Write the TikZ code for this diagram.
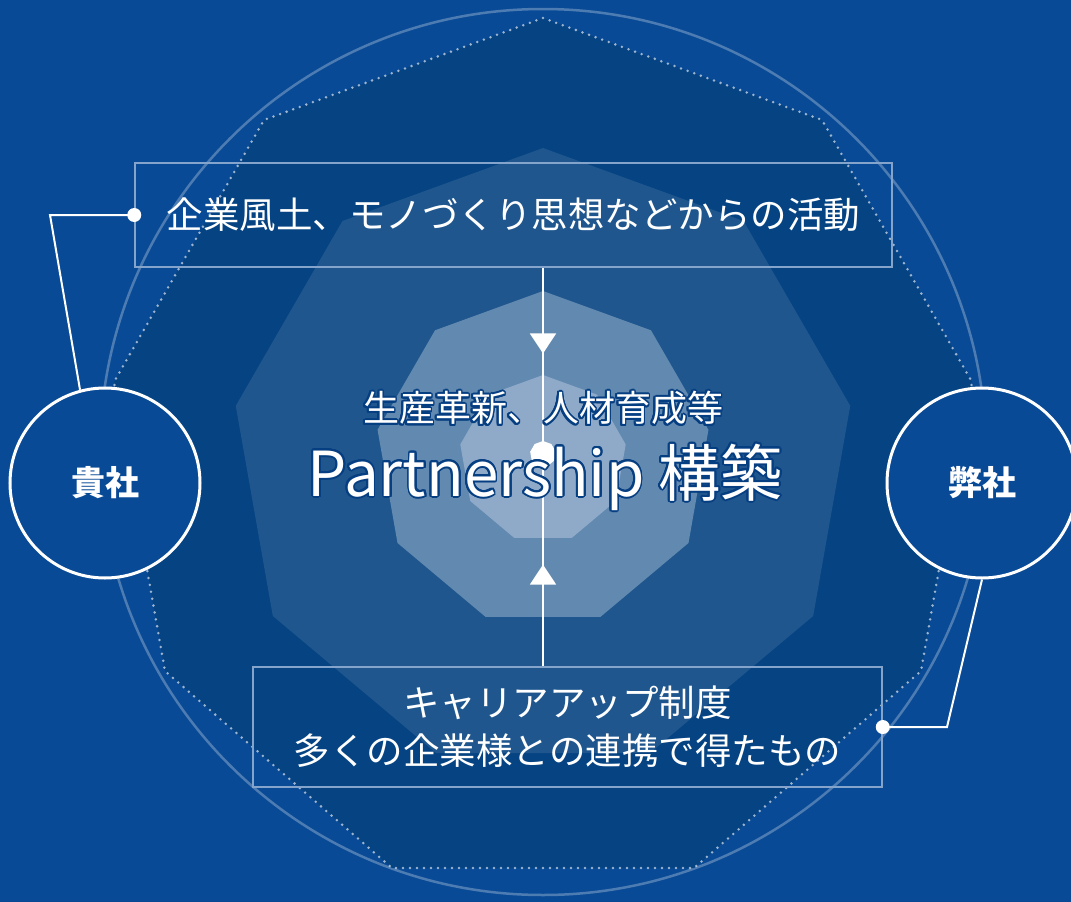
\documentclass[tikz,border=0pt]{standalone}
\usepackage{fontspec}
\setmainfont{Noto Sans CJK JP}
\usepackage[copies]{contour}
\usetikzlibrary{arrows.meta, shapes.geometric, decorations.markings, positioning}
\definecolor{bgblue}{RGB}{9,74,150}
\definecolor{deepblue}{RGB}{5,67,130}
\definecolor{ringblue}{RGB}{31,86,142}
\definecolor{midblue}{RGB}{98,137,176}
\definecolor{paleblue}{RGB}{143,170,200}
\definecolor{inkblue}{RGB}{6,62,130}
\contourlength{1.8pt}
\contournumber{24}

\begin{document}
\begin{tikzpicture}[x=1pt, y=-1pt,
  ring/.style={regular polygon, regular polygon sides=9, inner sep=0pt, draw=none},
  infobox/.style={draw=white!50!bgblue, line width=1.5pt, inner sep=0pt, text=white, font=\fontsize{36.5}{48}\selectfont, align=center},
  company/.style={circle, draw=white, line width=3pt, fill=bgblue, minimum size=190pt, inner sep=0pt, text=white, font=\fontsize{34}{38}\selectfont\bfseries},
  link/.style={white, line width=2pt},
  flow/.style={white, line width=2pt, postaction={decorate}, decoration={markings,
    mark=at position 0.215 with {\arrow{Triangle[width=26pt,length=20pt]}},
    mark=at position 0.745 with {\arrowreversed{Triangle[width=26pt,length=20pt]}}}},
  headline/.style={text=white, inner sep=0pt}]
  \fill[bgblue] (0,0) rectangle (1071,902);
  \useasboundingbox (0,0) rectangle (1071,902);
  \draw[white, draw opacity=0.28, line width=2.5pt] (543,452) circle (443);
  \path[fill=deepblue, draw=white, draw opacity=0.6, line width=2.8pt, line cap=round, dash pattern=on 0pt off 7pt]
    (543,18) -- (822,120) -- (972,382) -- (921,671) -- (694,868) -- (392,868) -- (165,671) -- (114,382) -- (264,120) -- cycle;
  \node[ring, fill=ringblue, minimum size=624pt] (wide) at (543,460) {};
  \node[ring, fill=midblue, minimum size=336pt] (middle) at (543,459) {};
  \node[ring, fill=paleblue, minimum size=168pt] (core) at (543,459) {};
  \node[ring, fill=white, minimum size=26pt] (seed) at (543,454) {};

  \node[infobox, minimum width=757pt, minimum height=104pt] (culture) at (513.5,215) {企業風土、モノづくり思想などからの活動};
  \node[infobox, minimum width=629pt, minimum height=120pt] (career) at (567.5,727) {キャリアアップ制度\\多くの企業様との連携で得たもの};
  \draw[flow] (culture.south -| seed) -- (career.north -| seed);

  \node[headline, font=\fontsize{36}{40}\selectfont] (goal) at (543,409) {\contour{inkblue}{生産革新、人材育成等}};
  \node[headline, font=\fontsize{62}{70}\selectfont] (partner) at (545,478) {\contour{inkblue}{Partnership 構築}};

  \node[company] (client) at (105,483) {貴社};
  \node[company] (us) at (982,483) {弊社};

  \coordinate (lbend) at (50,215);
  \coordinate (rbend) at (947,727);
  \draw[link] (culture.west) -- (lbend) -- (client.105);
  \draw[link] (career.east) -- (rbend) -- (us.south);
  \fill[white] (culture.west) circle (7);
  \fill[white] (career.east) circle (7);
\end{tikzpicture}
\end{document}
